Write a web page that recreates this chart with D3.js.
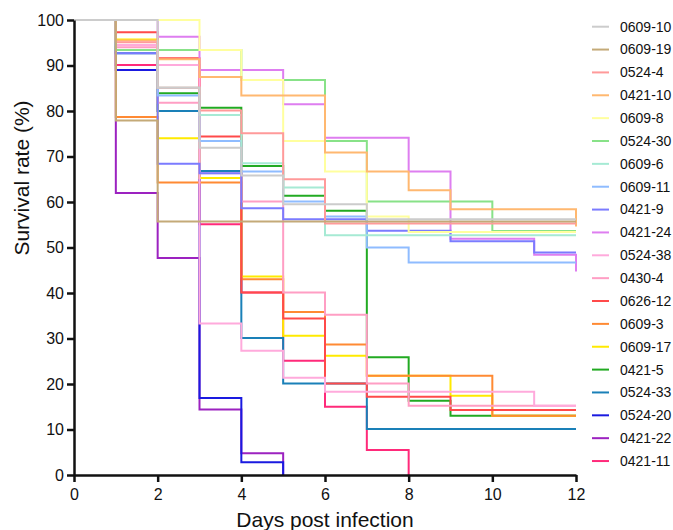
<!DOCTYPE html>
<html>
<head>
<meta charset="utf-8">
<script src="https://cdn.jsdelivr.net/npm/d3@7"></script>
<style>
  body { margin: 0; background: #fff; }
  svg { font-family: "Liberation Sans", Arial, sans-serif; }
</style>
</head>
<body>
<svg id="chart" width="673" height="530"></svg>
<script>
// days 0..12, survival (%) at each day (step after)
var days = [0,1,2,3,4,5,6,7,8,9,10,11,12];

var s0609_10 = [100,100,85.1,71.9,65.8,59.5,59.5,56.2,56.2,56.2,56.2,56.2,56.2];
var s0609_19 = [100,77.9,55.7,55.7,55.7,55.7,55.7,55.7,55.7,55.7,55.7,55.7,55.7];
var s0524_4  = [100,95.1,85.1,80.1,75.1,65.0,55.3,55.3,55.3,55.3,55.3,55.3,55.3];
var s0421_10 = [100,95.5,91.4,87.5,83.4,83.4,70.9,66.7,62.6,58.4,58.4,58.4,54.6];
var s0609_8  = [100,100,100,93.4,86.8,73.4,66.7,56.8,53.4,53.4,53.4,53.4,53.4];
var s0524_30 = [100,93.4,93.4,93.4,86.8,86.8,73.4,60.1,60.1,60.1,53.6,53.6,53.6];
var s0609_6  = [100,93.4,85.1,79.1,68.5,63.2,52.7,52.7,52.7,52.7,52.7,52.7,52.7];
var s0609_11 = [100,93.4,83.4,73.4,66.7,60.1,56.8,50.0,46.7,46.7,46.7,46.7,46.7];
var s0421_9  = [100,92.7,68.4,66.3,58.6,56.2,56.2,53.7,53.7,51.4,51.4,48.9,48.9];
var s0421_24 = [100,100,96.3,89.0,89.0,81.5,74.1,74.1,66.7,51.9,51.9,48.4,44.7];
var s0524_38 = [100,94.5,90.1,33.3,27.3,21.4,18.3,18.3,18.3,18.3,18.3,15.2,15.2];
var s0430_4  = [100,94.0,81.8,66.3,60.1,40.1,35.2,20.1,15.2,15.2,15.2,15.2,15.2];
var s0626_12 = [100,97.3,91.6,74.4,40.1,34.4,20.1,17.2,17.2,14.3,14.3,14.3,14.3];
var s0609_3  = [100,78.7,64.3,64.3,43.0,35.8,28.7,21.8,21.8,21.8,13.0,13.0,13.0];
var s0609_17 = [100,95.7,74.0,65.3,43.6,30.6,26.2,21.8,21.8,17.4,13.0,13.0,13.0];
var s0421_5  = [100,93.4,83.9,80.7,67.9,61.4,58.1,25.9,16.3,13.0,13.0,13.0,13.0];
var s0524_33 = [100,92.7,80.0,66.8,30.1,20.1,20.1,10.1,10.1,10.1,10.1,10.1,10.1];
var s0524_20 = [100,89.0,80.0,16.9,2.8,0];
var s0421_22 = [100,62.0,47.7,14.4,4.8,0];
var s0421_11 = [100,90.1,90.1,55.1,40.1,25.1,15.0,5.5,0];

var seriesNames = ['0609-10','0609-19','0524-4','0421-10','0609-8','0524-30','0609-6','0609-11','0421-9','0421-24',
	'0524-38','0430-4','0626-12','0609-3','0609-17','0421-5','0524-33','0524-20','0421-22','0421-11'];
var seriesValues = [s0609_10,s0609_19,s0524_4,s0421_10,s0609_8,s0524_30,s0609_6,s0609_11,s0421_9,s0421_24,
	s0524_38,s0430_4,s0626_12,s0609_3,s0609_17,s0421_5,s0524_33,s0524_20,s0421_22,s0421_11];
var seriesColors = ['#cccccc','#c4aa78','#ff9a9a','#ffb870','#ffff9e','#88e288','#a6ead4','#8fbcff','#7b7bff','#de7ef0',
	'#ffaadc','#ff9ec4','#ff4a4a','#ff8a33','#ffea00','#22aa22','#1a80b8','#1a1ae0','#9c22c0','#ff2a7a'];

var xTicks = [0,2,4,6,8,10,12];
var yTicks = [0,10,20,30,40,50,60,70,80,90,100];

var svg = d3.select('#chart');

var x = d3.scaleLinear().domain([0, 12]).range([74, 576]);
var y = d3.scaleLinear().domain([0, 100]).range([475, 20]);

var line = d3.line()
	.x(function(d){ return x(d.day); })
	.y(function(d){ return y(d.value); })
	.curve(d3.curveStepAfter);

// first legend entry ends up on top, so draw backwards
var plot = svg.append('g');
for (var i = seriesNames.length - 1; i >= 0; i--){
	var pts = seriesValues[i].map(function(v, j){ return {day: days[j], value: v}; });
	plot.append('path')
		.datum(pts)
		.attr('fill', 'none')
		.attr('stroke', seriesColors[i])
		.attr('stroke-width', 2)
		.attr('d', line);
}

// axes
var yAxis = svg.append('g')
	.attr('transform', 'translate(74,0)')
	.call(d3.axisLeft(y).tickValues(yTicks).tickSize(7).tickSizeOuter(0).tickPadding(3));
var xAxis = svg.append('g')
	.attr('transform', 'translate(0,475)')
	.call(d3.axisBottom(x).tickValues(xTicks).tickSize(7).tickSizeOuter(0).tickPadding(7));

[yAxis, xAxis].forEach(function(ax){
	ax.select('.domain').attr('stroke', '#111').attr('stroke-width', 2.5);
	ax.selectAll('.tick line').attr('stroke', '#111').attr('stroke-width', 2.5);
	ax.selectAll('.tick text')
		.attr('fill', '#111')
		.style('font-size', '16px')
		.style('font-family', '"Liberation Sans", Arial, sans-serif');
});

svg.append('text')
	.attr('x', 325)
	.attr('y', 527)
	.attr('text-anchor', 'middle')
	.attr('fill', '#111')
	.style('font-size', '21px')
	.text('Days post infection');

svg.append('text')
	.attr('transform', 'translate(29,178) rotate(-90)')
	.attr('text-anchor', 'middle')
	.attr('fill', '#111')
	.style('font-size', '21px')
	.text('Survival rate (%)');

// legend
var legend = svg.append('g');
seriesNames.forEach(function(name, i){
	var ly = 26.7 + i * 22.86;
	legend.append('line')
		.attr('x1', 592).attr('x2', 609)
		.attr('y1', ly).attr('y2', ly)
		.attr('stroke', seriesColors[i])
		.attr('stroke-width', 2);
	legend.append('text')
		.attr('x', 620)
		.attr('y', ly)
		.attr('dy', '0.35em')
		.attr('fill', '#111')
		.style('font-size', '14px')
		.text(name);
});
</script>
</body>
</html>
